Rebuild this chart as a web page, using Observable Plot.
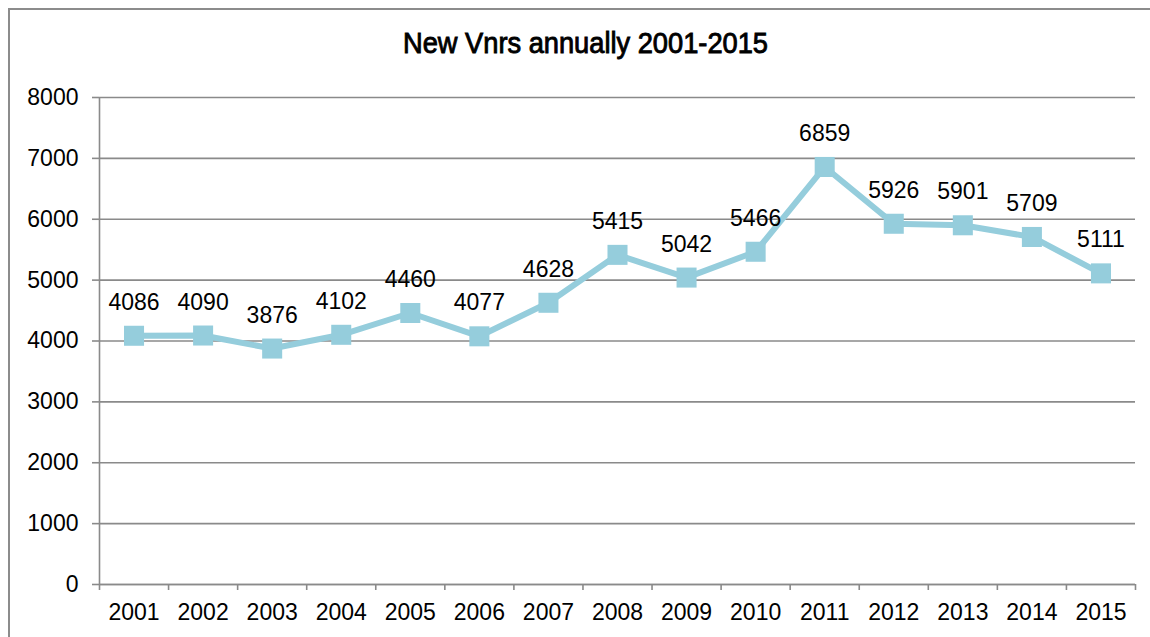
<!DOCTYPE html>
<html>
<head>
<meta charset="utf-8">
<script src="https://cdn.jsdelivr.net/npm/d3@7"></script>
<script src="https://cdn.jsdelivr.net/npm/@observablehq/plot@0.6"></script>
<style>
  html, body { margin: 0; padding: 0; background: #fff; overflow: hidden; }
  #wrap { position: relative; width: 1150px; height: 637px; overflow: hidden; }
  #frame { position: absolute; left: 8px; top: 8px; width: 1300px; height: 800px; border: 2px solid #8c8c8c; box-sizing: border-box; }
  #title { position: absolute; left: 585px; top: 29px; white-space: nowrap;
           font-family: "Liberation Sans", Arial, sans-serif; font-weight: normal;
           -webkit-text-stroke: 0.9px #000;
           font-size: 29px; line-height: 29px; color: #000; transform-origin: 0 0; }
  #chart { position: absolute; left: 0; top: 0; }
</style>
</head>
<body>
<div id="wrap">
  <div id="frame"></div>
  <div id="title">New Vnrs annually 2001-2015</div>
  <div id="chart"></div>
</div>
<script>
const years = [2001, 2002, 2003, 2004, 2005, 2006, 2007, 2008, 2009, 2010, 2011, 2012, 2013, 2014, 2015];
const values = [4086, 4090, 3876, 4102, 4460, 4077, 4628, 5415, 5042, 5466, 6859, 5926, 5901, 5709, 5111];
const yTicks = [0, 1000, 2000, 3000, 4000, 5000, 6000, 7000, 8000];

const data = years.map((y, i) => ({year: y, value: values[i]}));
const bounds = years.map(y => y - 0.5).concat([years[years.length - 1] + 0.5]);
const lineColor = "#95cddc";
const gridColor = "#8a8a8a";
const font = "'Liberation Sans', Arial, sans-serif";

const chart = Plot.plot({
  width: 1150,
  height: 637,
  marginLeft: 99,
  marginRight: 15,
  marginTop: 97,
  marginBottom: 53,
  style: {fontFamily: font, fontSize: "23px", color: "#000", background: "transparent", overflow: "visible"},
  x: {type: "linear", domain: [bounds[0], bounds[bounds.length - 1]]},
  y: {domain: [0, 8000]},
  marks: [
    Plot.gridY(yTicks, {stroke: gridColor, strokeOpacity: 1, strokeWidth: 1.6}),
    Plot.ruleX([bounds[0]], {y1: 0, y2: 8000, stroke: gridColor, strokeWidth: 1.6}),
    Plot.ruleY([0], {stroke: gridColor, strokeWidth: 1.6}),
    Plot.axisY({ticks: yTicks, tickSize: 7, tickPadding: 14, tickFormat: d => String(d),
                stroke: gridColor, strokeWidth: 1.6, fill: "#000", fontSize: 23, label: null}),
    Plot.axisX({ticks: bounds, tickSize: 6, tickFormat: () => "", stroke: gridColor, strokeWidth: 1.6, label: null}),
    Plot.axisX({ticks: years, tickSize: 0, tickPadding: 19, tickFormat: d => String(d), fill: "#000", fontSize: 23, label: null}),
    Plot.line(data, {x: "year", y: "value", stroke: lineColor, strokeWidth: 6}),
    Plot.dot(data, {x: "year", y: "value", symbol: "square", r: 11.3, fill: lineColor, stroke: "none"}),
    Plot.text(data, {x: "year", y: "value", text: d => String(d.value), lineAnchor: "bottom", dy: -26,
                     fill: "#000", fontSize: 23})
  ]
});
document.getElementById("chart").appendChild(chart);

// condense the title to the narrow width of the original
const t = document.getElementById("title");
const w = t.getBoundingClientRect().width;
const targetW = 365;
const s = targetW / w;
t.style.left = (585.5 - targetW / 2) + "px";
t.style.transform = `scaleX(${s})`;
</script>
</body>
</html>
